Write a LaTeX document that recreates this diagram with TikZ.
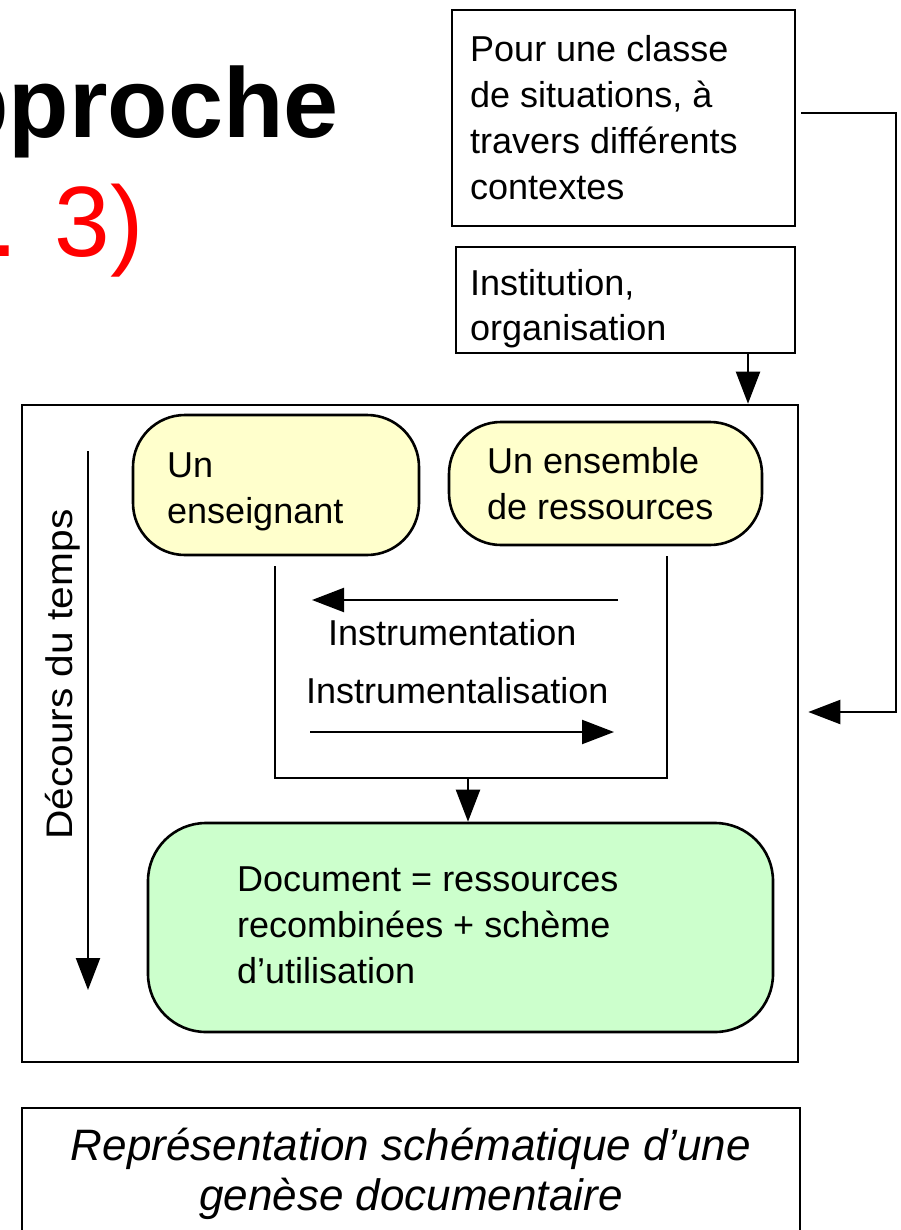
\documentclass[tikz,border=0pt]{standalone}
\usepackage{fontspec}
\setmainfont{Liberation Sans}
\usetikzlibrary{arrows.meta}
\definecolor{yel}{HTML}{FFFFCC}
\definecolor{grn}{HTML}{CCFFCC}
\newcommand{\mylines}[2]{\parbox[t]{#1}{\raggedright #2}}
\begin{document}
\begin{tikzpicture}[x=1pt,y=-1pt,
  box/.style={draw, line width=2.6pt, inner sep=0pt},
  pill/.style={box, rounded corners=52pt},
  conn/.style={line width=2.2pt},
  arr/.style={conn, -{Triangle[length=32pt,width=24pt]}},
  txt/.style={anchor=base west, inner sep=0pt, font=\fontsize{36}{46}\selectfont},
]
\useasboundingbox (0,0) rectangle (901,1230);

% title fragments
\node[anchor=base west, inner sep=0pt, font=\fontsize{99}{120}\selectfont\bfseries] (title) at (-52,138) {pproche};
\node[anchor=base west, inner sep=0pt, text=red, font=\fontsize{100}{120}\selectfont] (subtitle) at (-10,257) {. 3)};

% boxes
\node[box, minimum width=343pt, minimum height=216pt] (ctx) at (623.5,118) {};
\node[box, minimum width=339pt, minimum height=106pt] (inst) at (625.5,300) {};
\node[box, minimum width=776pt, minimum height=657pt] (outer) at (410,733.5) {};
\node[pill, fill=yel, minimum width=286pt, minimum height=140pt] (ens) at (276,485) {};
\node[pill, fill=yel, minimum width=313pt, minimum height=123pt] (res) at (605.5,483.5) {};
\node[box, rounded corners=58pt, fill=grn, minimum width=625pt, minimum height=209pt] (doc) at (460.5,927.5) {};
\node[box, minimum width=778pt, minimum height=160pt] (cap) at (411,1188) {};

% texts
\node[txt] (ctxT) at (470,62) {\fontsize{36}{46}\selectfont\mylines{400pt}{Pour une classe\\de situations, à\\travers différents\\contextes}};
\node[txt] (instT) at (470,296) {\fontsize{36}{44}\selectfont\mylines{400pt}{Institution,\\organisation}};
\node[txt] (ensT) at (167,477) {\fontsize{36}{46}\selectfont\mylines{300pt}{Un\\enseignant}};
\node[txt] (resT) at (487,473) {\fontsize{36}{46}\selectfont\mylines{300pt}{Un ensemble\\de ressources}};
\node[txt] (docT) at (237,891) {\fontsize{36}{46}\selectfont\mylines{500pt}{Document = ressources\\recombinées + schème\\d’utilisation}};
\node[txt] (i1) at (328,645) {Instrumentation};
\node[txt] (i2) at (306,703) {Instrumentalisation};
\node[anchor=base, inner sep=0pt, font=\itshape] (capT) at (411,1160)
  {\fontsize{44}{50}\selectfont\parbox[t]{770pt}{\centering Représentation schématique d’une\\genèse documentaire}};
\node[rotate=90, anchor=base west, inner sep=0pt, font=\fontsize{37}{44}\selectfont] (time) at (72,840)
  {\scalebox{1.1}[1]{Décours du temps}};

% connectors
\draw[arr] ([xshift=5pt,yshift=5pt]ctx.east) -- ++(95,0) |- ([xshift=9pt,yshift=21.5pt]outer.east);
\draw[arr] ([xshift=122.5pt]inst.south) -- ([xshift=338pt]outer.north);

\coordinate (b1) at (275,566);
\coordinate (b2) at (275,778);
\coordinate (b3) at (667,778);
\coordinate (b4) at (667,556);
\coordinate (bm) at (468,778);
\draw[conn] (b1) -- (b2) -- (b3) -- (b4);
\draw[arr] (bm) -- (doc.north -| bm);

\coordinate (a1s) at (618,600);
\coordinate (a1e) at (312,600);
\coordinate (a2s) at (310,732);
\coordinate (a2e) at (614,732);
\draw[arr] (a1s) -- (a1e);
\draw[arr] (a2s) -- (a2e);

\coordinate (ts) at (88,451);
\coordinate (te) at (88,990);
\draw[arr] (ts) -- (te);
\end{tikzpicture}
\end{document}
